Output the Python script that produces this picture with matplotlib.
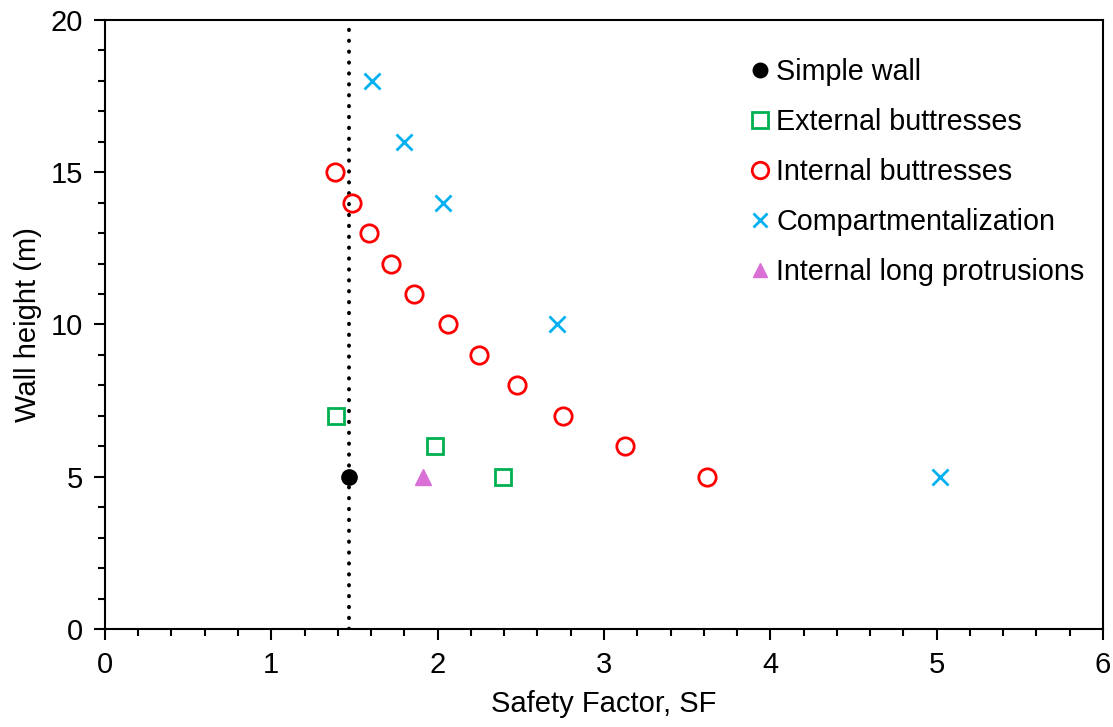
import matplotlib.pyplot as plt
from matplotlib.ticker import MultipleLocator

plt.rcParams['font.family'] = ['Liberation Sans', 'DejaVu Sans']

# data
simple_sf = [1.465]
simple_h = [5]
ext_sf = [1.39, 1.985, 2.39]
ext_h = [7, 6, 5]
int_sf = [1.385, 1.485, 1.59, 1.72, 1.86, 2.065, 2.25, 2.475, 2.755, 3.125, 3.62]
int_h = [15, 14, 13, 12, 11, 10, 9, 8, 7, 6, 5]
comp_sf = [1.605, 1.795, 2.035, 2.72, 5.02]
comp_h = [18, 16, 14, 10, 5]
prot_sf = [1.915]
prot_h = [5]
sf_simple_line = 1.465

fig = plt.figure(figsize=(11.13, 7.27), dpi=100)
ax = fig.add_axes([0.0943, 0.1348, 0.8967, 0.8377])

ax.plot([sf_simple_line, sf_simple_line], [0, 20], color='black', lw=2.8,
        linestyle=(0, (0.1, 2.7)), dash_capstyle='round', zorder=1)

ax.plot(simple_sf, simple_h, 'o', color='black', ms=11, ls='none', label='Simple wall', zorder=3)
ax.plot(ext_sf, ext_h, 's', mfc='none', mec='#00B050', mew=2, ms=12, ls='none',
        label='External buttresses')
ax.plot(int_sf, int_h, 'o', mfc='none', mec='#FF0000', mew=2, ms=12.5, ls='none',
        label='Internal buttresses')
ax.plot(comp_sf, comp_h, 'x', color='#00B0F0', mew=2, ms=11, ls='none',
        label='Compartmentalization')
ax.plot(prot_sf, prot_h, '^', color='#DA70D6', ms=11, ls='none',
        label='Internal long protrusions')

ax.set_xlim(0, 6)
ax.set_ylim(0, 20)
ax.xaxis.set_major_locator(MultipleLocator(1))
ax.xaxis.set_minor_locator(MultipleLocator(0.2))
ax.yaxis.set_major_locator(MultipleLocator(5))
ax.yaxis.set_minor_locator(MultipleLocator(1))
ax.tick_params(which='major', direction='out', length=8, width=1.5, labelsize=21,
               top=False, right=False)
ax.tick_params(which='minor', direction='out', length=5, width=1.5,
               top=False, right=False)
ax.tick_params(axis='x', pad=8)
ax.tick_params(axis='y', pad=8)
for s in ax.spines.values():
    s.set_linewidth(1.5)

ax.set_xlabel('Safety Factor, SF', fontsize=21, labelpad=8)
ax.set_ylabel('Wall height (m)', fontsize=21, labelpad=6)

ax.legend(loc='upper right', bbox_to_anchor=(0.993, 0.957), frameon=False, fontsize=20.7,
          handlelength=0.5, handletextpad=0.3, labelspacing=0.77, markerscale=0.95,
          borderaxespad=0)

fig.savefig('out.png', dpi=100)
